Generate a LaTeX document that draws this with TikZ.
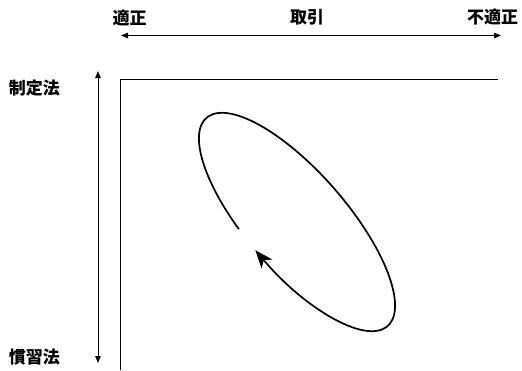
\documentclass[tikz,border=0pt]{standalone}
\usepackage{fontspec}
\newfontfamily\cjk{Noto Sans CJK JP}
\usetikzlibrary{arrows.meta}
\tikzset{
  lab/.style={font=\cjk\bfseries\fontsize{17}{17}\selectfont, inner sep=0pt},
  axis/.style={line width=1pt, {Triangle[length=7pt,width=5.5pt]}-{Triangle[length=7pt,width=5.5pt]}},
  frame/.style={line width=1pt},
  cycle/.style={line width=1.7pt, -{Stealth[length=18pt,width=14pt,inset=5pt]}}
}
\begin{document}
\begin{tikzpicture}[x=1pt,y=1pt]
\useasboundingbox (0,0) rectangle (522,-370);
% labels
\node[lab] (tekisei) at (129.5,-17.5) {適正};
\node[lab] (torihiki) at (307,-17.5) {取引};
\node[lab] (futekisei) at (492.5,-17.5) {不適正};
\node[lab] (seitei) at (34.5,-88.5) {制定法};
\node[lab] (kanshu) at (34.5,-357) {慣習法};
% axis arrows
\coordinate (hl) at (121,-35.5);
\coordinate (hr) at (501,-35.5);
\coordinate (vt) at (98,-71);
\coordinate (vb) at (98,-363);
\draw[axis] (hl) -- (hr);
\draw[axis] (vt) -- (vb);
% frame
\coordinate (fb) at (120,-370);
\coordinate (fc) at (120,-79);
\coordinate (fr) at (498,-79);
\draw[frame] (fb) -- (fc) -- (fr);
% cycle
\begin{scope}[shift={(297,-222)}, rotate=-49]
\draw[cycle] (-103.7:138pt and 50pt) arc[start angle=-103.7, end angle=-452.5, x radius=138pt, y radius=50pt];
\end{scope}
\end{tikzpicture}
\end{document}
